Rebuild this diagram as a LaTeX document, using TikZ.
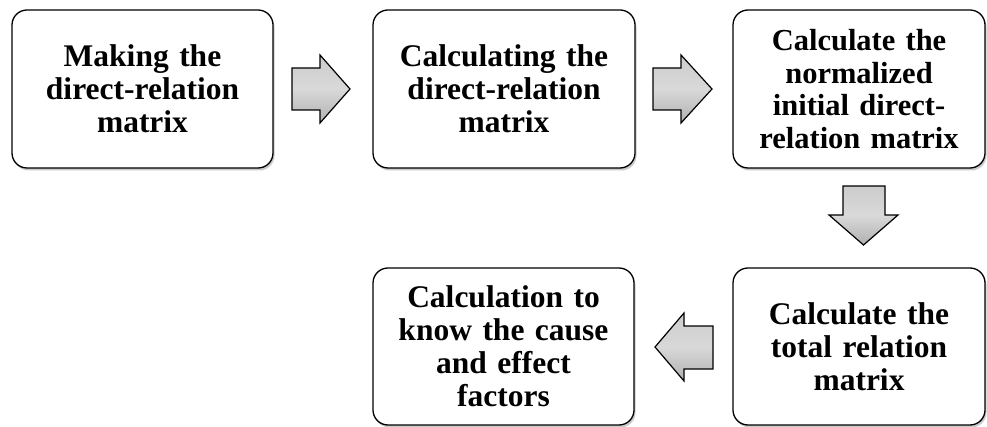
\documentclass[tikz,border=0pt]{standalone}
\usepackage{fontspec}
\setmainfont{Liberation Serif}
\usetikzlibrary{shadows,positioning}
\tikzset{
  stepbox/.style={draw=black, line width=1.3pt, rounded corners=15pt, fill=white,
    align=center, inner sep=0pt,
    font=\fontsize{31.5}{33}\selectfont\bfseries,
    drop shadow={shadow xshift=1.5pt, shadow yshift=-2.5pt, opacity=0.35, fill=black!60}},
  blockarrow/.style={draw=black, line width=1.2pt, line join=miter,
    top color=gray!40, bottom color=gray!62, middle color=gray!30}
}
\begin{document}
\begin{tikzpicture}[x=1pt,y=-1pt]
\useasboundingbox (0,0) rectangle (987,427);
% boxes
\node[stepbox, minimum width=261pt, minimum height=158pt, text width=255pt] (b1) at (142.5,89) {Making the\\direct-relation\\matrix};
\node[stepbox, minimum width=262pt, minimum height=158pt, text width=255pt] (b2) at (504,89) {Calculating the\\direct-relation\\matrix};
\node[stepbox, minimum width=252pt, minimum height=158pt, text width=248pt, font=\fontsize{30.5}{32.5}\selectfont\bfseries] (b3) at (859,89) {Calculate the\\normalized\\initial direct-\\relation matrix};
\node[stepbox, minimum width=252pt, minimum height=157pt, text width=248pt] (b5) at (859,346.5) {Calculate the\\total relation\\matrix};
\node[stepbox, minimum width=261pt, minimum height=157pt, text width=255pt] (b4) at (503.5,346.5) {Calculation to\\know the cause\\and effect\\factors};
% block arrows
\draw[blockarrow] (292,68) -- (320,68) -- (320,55) -- (350,89) -- (320,123) -- (320,110) -- (292,110) -- cycle;
\draw[blockarrow] (653,68) -- (681,68) -- (681,55) -- (712,89) -- (681,123) -- (681,110) -- (653,110) -- cycle;
\draw[blockarrow] (843,186) -- (885,186) -- (885,215) -- (898,215) -- (863.5,245) -- (829,215) -- (843,215) -- cycle;
\draw[blockarrow] (713,326) -- (684,326) -- (684,313) -- (655,347) -- (684,381) -- (684,369) -- (713,369) -- cycle;
\end{tikzpicture}
\end{document}
